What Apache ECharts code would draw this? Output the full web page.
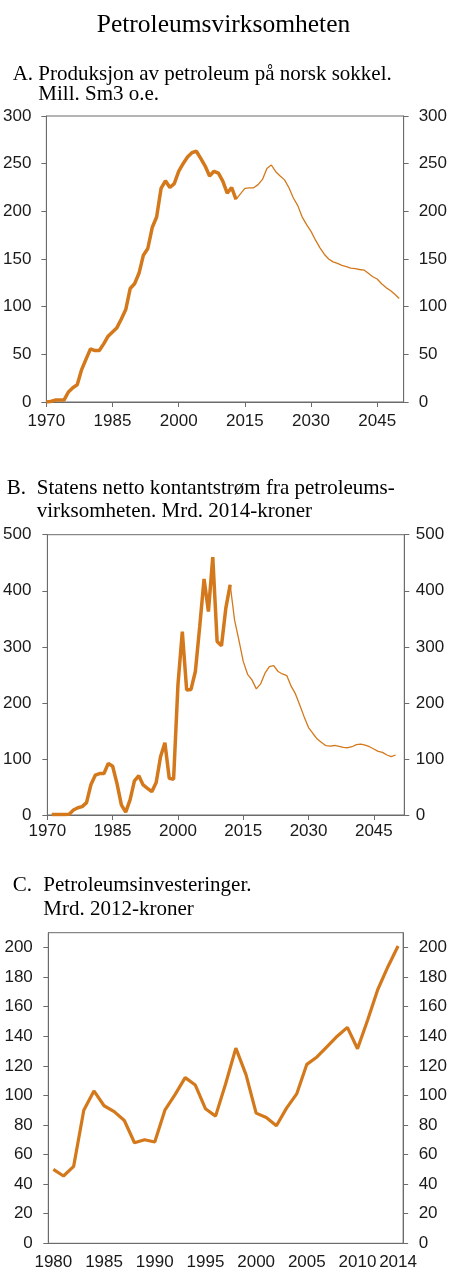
<!DOCTYPE html>
<html>
<head>
<meta charset="utf-8">
<script src="https://cdn.jsdelivr.net/npm/echarts@6/dist/echarts.min.js"></script>
<style>
html,body{margin:0;padding:0;background:#fff;}
#c{width:450px;height:1286px;}
</style>
</head>
<body>
<div id="c"></div>
<script>
// ---------- Data ----------
// A. Produksjon (Mill. Sm3 o.e.)
const prodAxisStart = 1970, prodAxisEnd = 2051;
const prodHistStart = 1970;
const prodHist = [0,0.5,2,2,2,10.5,15,18,34,45,55.7,54,54,61,69,73.5,78,87,97,119,124,135,154,161,183,194,224,232,225,229,242,250,257,261.5,263,255.5,247.5,237,242,240,231.7,219,225,212.5];
const prodProjStart = 2013;
const prodProj = [212.5,218.4,224,224.7,224.7,228,233.5,245,248.6,241.6,237,233,224.7,214,206,194,186,179,170,162,155,150,147,145.4,143.3,142,140.5,139.8,139,138.4,135,131.4,129,124,120,117,113,108.6];
const prodYTicks = [0,50,100,150,200,250,300];

// B. Statens netto kontantstrøm (Mrd. 2014-kroner)
const cashAxisStart = 1970, cashAxisEnd = 2052;
const cashHistStart = 1971;
const cashHist = [1,1,1,1,1.5,9,13,15,22,54,71,74,74,92,87,56,18,5,27,61,70,53.6,47.6,41.7,58,104,129,65.5,63.7,232,327,223,224,256,336,421,363,460,309.5,302,369,410.7];
const cashProjStart = 2012;
const cashProj = [410.7,348,312,274,251,241,225,234,253,264.6,266.4,256,251.6,248.7,229.8,216,195.6,175,156,145.4,135.4,129.5,123.6,123,124,122.4,120.6,120,121.8,125.4,126.5,124.8,121.8,117.7,113.6,111.8,107,104,107];
const cashYTicks = [0,100,200,300,400,500];

// C. Petroleumsinvesteringer (Mrd. 2012-kroner)
const invStart = 1980, invEnd = 2014;
const invValues = [50,45.5,52,90,103,93,89,83,68,70,68.5,90,100.5,112,107,91,86,108,132,114,88,85,79.5,91.4,101,121,126,133,140,146,131.5,151,171.6,187,201];
const invYTicks = [0,20,40,60,80,100,120,140,160,180,200];
const xLabelStep = 15;

// ---------- Helpers ----------
function range(a, b){ const r=[]; for(let y=a;y<=b;y++) r.push(String(y)); return r; }
function toPairs(start, axisStart, vals){ return vals.map((v,i)=>[start - axisStart + i, v]); }

const ORANGE = '#D4781C';
const AXIS = '#6b6b6b';
const LABEL = '#1a1a1a';
const SANS = 'Liberation Sans, Arial, sans-serif';
const SERIF = 'Liberation Serif, Times New Roman, serif';
const FS = 17;

const prodCats = range(prodAxisStart, prodAxisEnd);
const cashCats = range(cashAxisStart, cashAxisEnd);
const invCats = range(invStart, invEnd);

function yAxisPair(gridIndex, min, max, interval, ticks, mL, mR){
  const common = {
    type:'value', gridIndex, min, max, interval,
    splitLine:{show:false},
    axisLine:{show:true, lineStyle:{color:AXIS, width:1}},
    axisTick:{show:true, inside:false, length:5, lineStyle:{color:AXIS}, customValues:ticks},
  };
  return [
    Object.assign({}, common, {position:'left',
      axisLabel:{margin:mL, fontFamily:SANS, fontSize:FS, color:LABEL, customValues:ticks}}),
    Object.assign({}, common, {position:'right',
      axisLabel:{margin:mR, fontFamily:SANS, fontSize:FS, color:LABEL, customValues:ticks}})
  ];
}

const chart = echarts.init(document.getElementById('c'), null, {renderer:'canvas'});

const option = {
  animation:false,
  backgroundColor:'#ffffff',
  grid:[
    {left:43.3, top:116, width:361.7, height:286, show:true, borderColor:AXIS, borderWidth:1, containLabel:false},
    {left:44.3, top:534.7, width:360, height:280.3, show:true, borderColor:AXIS, borderWidth:1, containLabel:false},
    {left:48.3, top:932.7, width:357.7, height:310.6, show:true, borderColor:AXIS, borderWidth:1, containLabel:false}
  ],
  xAxis:[
    {type:'category', gridIndex:0, data:prodCats, boundaryGap:false,
     axisLine:{lineStyle:{color:AXIS}},
     axisTick:{inside:false, length:5, lineStyle:{color:AXIS}, interval:(i)=> i % xLabelStep === 0},
     axisLabel:{margin:11, fontFamily:SANS, fontSize:FS, color:LABEL, interval:(i)=> i % xLabelStep === 0},
     splitLine:{show:false}},
    {type:'category', gridIndex:1, data:cashCats, boundaryGap:false,
     axisLine:{lineStyle:{color:AXIS}},
     axisTick:{inside:false, length:5, lineStyle:{color:AXIS}, interval:(i)=> i % xLabelStep === 0},
     axisLabel:{margin:8, fontFamily:SANS, fontSize:FS, color:LABEL, interval:(i)=> i % xLabelStep === 0},
     splitLine:{show:false}},
    {type:'category', gridIndex:2, data:invCats, boundaryGap:true,
     axisLine:{lineStyle:{color:AXIS}},
     axisTick:{inside:false, length:5, lineStyle:{color:AXIS}, interval:0},
     axisLabel:{margin:11, fontFamily:SANS, fontSize:FS, color:LABEL,
       interval:(i)=> i % 5 === 0 || i === invCats.length-1},
     splitLine:{show:false}}
  ],
  yAxis:[].concat(
    yAxisPair(0, 0, 300, 50, prodYTicks, 15, 15),
    yAxisPair(1, 0, 500, 100, cashYTicks, 16, 11.5),
    yAxisPair(2, 0, 210, 20, invYTicks, 15.5, 15.5)
  ),
  series:[
    {type:'line', xAxisIndex:0, yAxisIndex:0, data:toPairs(prodProjStart, prodAxisStart, prodProj),
     symbol:'none', lineStyle:{color:ORANGE, width:1.3}, z:2},
    {type:'line', xAxisIndex:0, yAxisIndex:0, data:toPairs(prodHistStart, prodAxisStart, prodHist),
     symbol:'none', lineStyle:{color:ORANGE, width:3.5}, z:3},
    {type:'line', xAxisIndex:1, yAxisIndex:2, data:toPairs(cashProjStart, cashAxisStart, cashProj),
     symbol:'none', lineStyle:{color:ORANGE, width:1.3}, z:2},
    {type:'line', xAxisIndex:1, yAxisIndex:2, data:toPairs(cashHistStart, cashAxisStart, cashHist),
     symbol:'none', lineStyle:{color:ORANGE, width:3.5}, z:3},
    {type:'line', xAxisIndex:2, yAxisIndex:4, data:toPairs(invStart, invStart, invValues),
     symbol:'none', lineStyle:{color:ORANGE, width:3.2}, z:3}
  ],
  graphic:[
    {type:'text', x:223.5, y:25, style:{text:'Petroleumsvirksomheten', font:'25.5px '+SERIF, fill:'#000', align:'center', verticalAlign:'middle'}},
    {type:'text', x:12.7, y:74.9, style:{text:'A.', font:'21px '+SERIF, fill:'#000', verticalAlign:'middle'}},
    {type:'text', x:38.3, y:74.9, style:{text:'Produksjon av petroleum på norsk sokkel.', font:'21px '+SERIF, fill:'#000', verticalAlign:'middle'}},
    {type:'text', x:38.3, y:94.6, style:{text:'Mill. Sm3 o.e.', font:'21px '+SERIF, fill:'#000', verticalAlign:'middle'}},
    {type:'text', x:6.7, y:488.6, style:{text:'B.', font:'21px '+SERIF, fill:'#000', verticalAlign:'middle'}},
    {type:'text', x:36.7, y:488.6, style:{text:'Statens netto kontantstrøm fra petroleums-', font:'21px '+SERIF, fill:'#000', verticalAlign:'middle'}},
    {type:'text', x:36.7, y:511.9, style:{text:'virksomheten. Mrd. 2014-kroner', font:'21px '+SERIF, fill:'#000', verticalAlign:'middle'}},
    {type:'text', x:12.7, y:885.2, style:{text:'C.', font:'21px '+SERIF, fill:'#000', verticalAlign:'middle'}},
    {type:'text', x:43.3, y:885.2, style:{text:'Petroleumsinvesteringer.', font:'21px '+SERIF, fill:'#000', verticalAlign:'middle'}},
    {type:'text', x:43.3, y:909.6, style:{text:'Mrd. 2012-kroner', font:'21px '+SERIF, fill:'#000', verticalAlign:'middle'}}
  ]
};
chart.setOption(option);
</script>
</body>
</html>
